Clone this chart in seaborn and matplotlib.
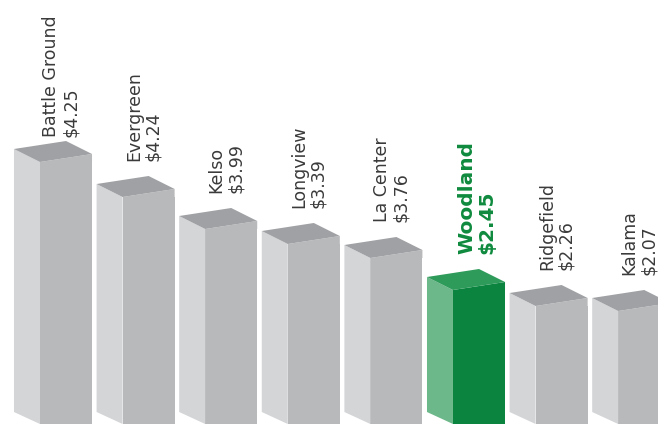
import matplotlib
matplotlib.use("Agg")
import matplotlib.pyplot as plt
from matplotlib.patches import Polygon
import seaborn as sns

# Data
towns = ["Battle Ground", "Evergreen", "Kelso", "Longview",
         "La Center", "Woodland", "Ridgefield", "Kalama"]
prices = ["$4.25", "$4.24", "$3.99", "$3.39", "$3.76", "$2.45", "$2.26", "$2.07"]
# drawn bar heights (relative units, as they appear in the graphic)
heights = [262, 227, 195, 180, 166, 134, 118, 113]
highlight = "Woodland"

# colours for the three visible faces
gray = {"front": "#b8b9bb", "left": "#d4d5d7", "top": "#a0a1a4"}
green = {"front": "#0b8440", "left": "#6db88a", "top": "#2f9b5a"}
text_gray = "#3a3a3a"
text_green = "#0f8a3e"

sns.set_style("white")
plt.rcParams['font.family'] = ['DejaVu Sans']

fig = plt.figure(figsize=(6.58, 4.27), dpi=100)
ax = fig.add_axes([0, 0, 1, 1])

front_colors = [green["front"] if t == highlight else gray["front"] for t in towns]
sns.barplot(x=towns, y=heights, hue=towns, palette=front_colors, legend=False,
            width=0.63, saturation=1, linewidth=0, ax=ax)

px = 82.6          # pixels per category step
depth_x = 26 / px  # side face depth in x units
depth_y = 13       # side face rise
slope = 8          # rise of the front top edge

for container, town, price, h in zip(ax.containers, towns, prices, heights):
    bar = container.patches[0]
    x0 = bar.get_x()
    x1 = x0 + bar.get_width()
    cols = green if town == highlight else gray
    # left side face
    ax.add_patch(Polygon([(x0 - depth_x, 12), (x0 - depth_x, h + depth_y),
                          (x0, h), (x0, 0)], closed=True,
                         facecolor=cols["left"], edgecolor="none"))
    # small wedge so the front top edge rises to the right
    ax.add_patch(Polygon([(x0, h), (x1, h + slope), (x1, h)], closed=True,
                         facecolor=cols["front"], edgecolor="none"))
    # top face
    ax.add_patch(Polygon([(x0, h), (x0 - depth_x, h + depth_y),
                          (x1 - depth_x, h + depth_y + slope), (x1, h + slope)],
                         closed=True, facecolor=cols["top"], edgecolor="none"))
    # rotated label above the bar
    cx = x0 + 21 / px
    ty = min(h + 37, 288)
    if town == highlight:
        ax.text(cx + 3 / px, ty, town + "\n" + price, rotation=90, ha="center",
                va="bottom", fontsize=14.5, fontweight="bold", color=text_green,
                linespacing=1.1, multialignment="left")
    else:
        ax.text(cx, ty, town + "\n" + price, rotation=90, ha="center", va="bottom",
                fontsize=12.5, color=text_gray, linespacing=1.1,
                multialignment="left")

ax.set_xlim(-66 / px, -66 / px + 658 / px)
ax.set_ylim(-2, 425)
ax.axis("off")

fig.savefig("out.png", dpi=100)
